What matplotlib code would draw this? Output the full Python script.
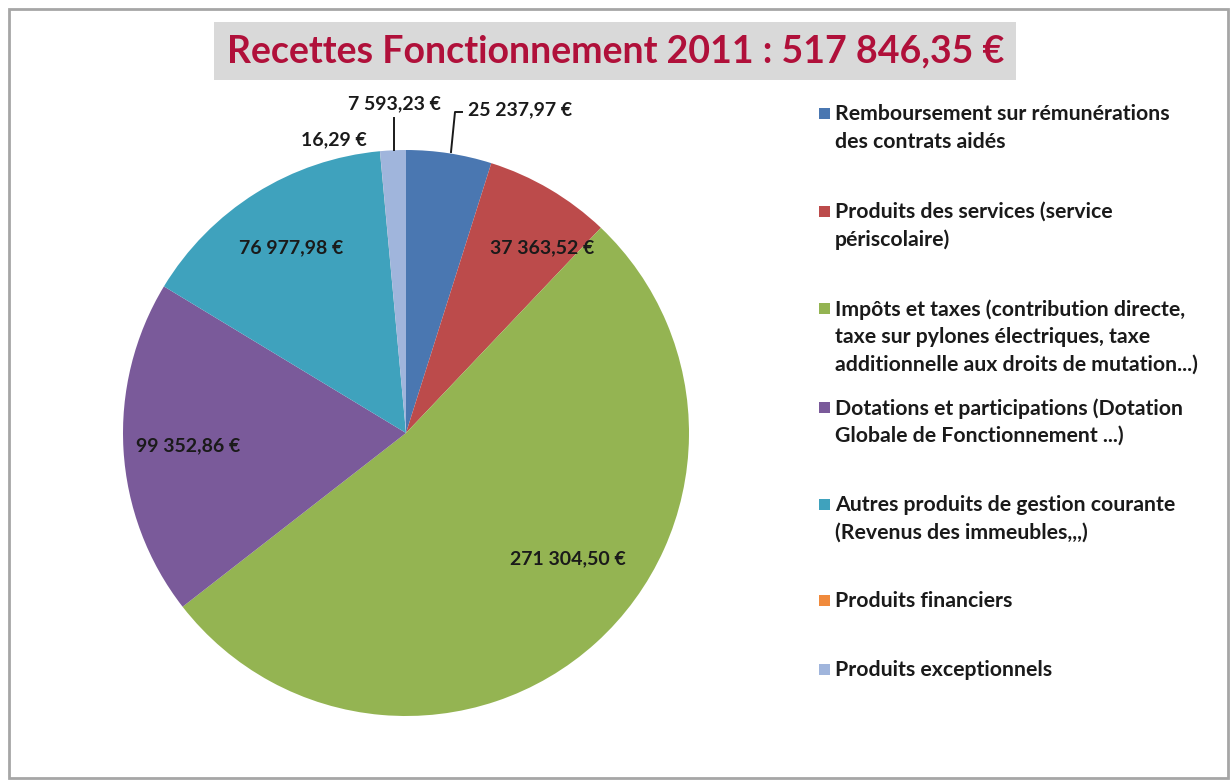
import matplotlib
matplotlib.use("Agg")
import matplotlib.pyplot as plt
from matplotlib.patches import Rectangle

# ---- data ----
categories = [
    "Remboursement sur rémunérations\ndes contrats aidés",
    "Produits des services (service\npériscolaire)",
    "Impôts et taxes (contribution directe,\ntaxe sur pylones électriques, taxe\nadditionnelle aux droits de mutation...)",
    "Dotations et participations (Dotation\nGlobale de Fonctionnement ...)",
    "Autres produits de gestion courante\n(Revenus des immeubles,,,)",
    "Produits financiers",
    "Produits exceptionnels",
]
values = [25237.97, 37363.52, 271304.50, 99352.86, 76977.98, 16.29, 7593.23]
value_labels = ["25 237,97 €", "37 363,52 €", "271 304,50 €", "99 352,86 €",
                "76 977,98 €", "16,29 €", "7 593,23 €"]
title = "Recettes Fonctionnement 2011 : 517 846,35 €"

# ---- style / layout ----
colors = ["#4A77B1", "#BC4B4B", "#94B452", "#7A5A9A", "#3FA2BD", "#F08A3C", "#A0B5DC"]
W, H = 1230, 780
cx, cy, R = 406, 433, 283
# label centres in pixels
label_px = [(520, 110), (542, 248), (568, 559), (188, 446), (291, 248), (334, 140), (394, 104)]
legend_y = [113, 211, 308, 407, 504, 600, 669]
font = "Lato"

fig = plt.figure(figsize=(W / 100, H / 100), dpi=100)
fig.patch.set_facecolor("white")

# outer frame
fig.patches.append(Rectangle((9 / W, 2 / H), 1219 / W, 769 / H, transform=fig.transFigure,
                             fill=False, edgecolor="#A6A6A6", linewidth=2))

# title with grey box
fig.patches.append(Rectangle((214 / W, 1 - 80 / H), 802 / W, 58 / H, transform=fig.transFigure,
                             facecolor="#D9D9D9", edgecolor="none"))
fig.text(616 / W, 1 - 51 / H, title, ha="center", va="center", fontsize=27,
         fontweight="bold", color="#B0103A", family=font)

ax = fig.add_axes([(cx - R) / W, (H - cy - R) / H, 2 * R / W, 2 * R / H])
ax.pie(values, colors=colors, startangle=90, counterclock=False,
       wedgeprops=dict(linewidth=0), radius=1)
ax.set_xlim(-1, 1)
ax.set_ylim(-1, 1)
ax.axis("off")

def to_data(px, py):
    return (px - cx) / R, (cy - py) / R

for lab, (px, py) in zip(value_labels, label_px):
    x, y = to_data(px, py)
    ax.text(x, y, lab, ha="center", va="center", fontsize=14, fontweight="bold",
            color="#1A1A1A", family=font)

# leader lines
lx, ly = zip(*[to_data(*p) for p in [(451, 152), (455, 112), (462, 112)]])
ax.plot(lx, ly, color="#1A1A1A", lw=1.4, clip_on=False)
lx, ly = zip(*[to_data(*p) for p in [(394, 150), (394, 118)]])
ax.plot(lx, ly, color="#1A1A1A", lw=1.4, clip_on=False)

# legend
for cat, col, y in zip(categories, colors, legend_y):
    fig.patches.append(Rectangle((819 / W, 1 - (y + 6) / H), 11 / W, 11 / H,
                                 transform=fig.transFigure, facecolor=col, edgecolor="none"))
    fig.text(835 / W, 1 - (y - 9) / H, cat, ha="left", va="top", fontsize=15.3,
             fontweight="bold", color="#1A1A1A", family=font, linespacing=1.47)

fig.savefig("out.png", dpi=100)
